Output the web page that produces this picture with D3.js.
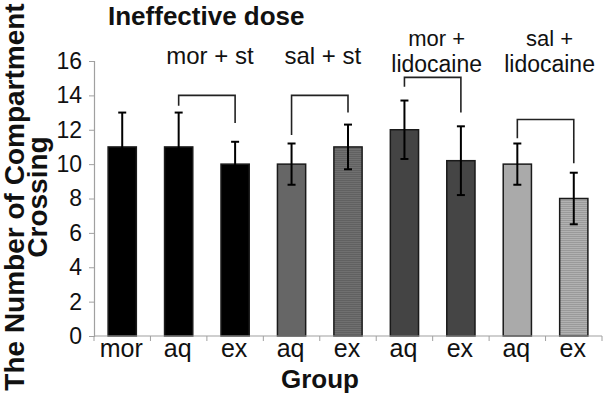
<!DOCTYPE html>
<html>
<head>
<meta charset="utf-8">
<script src="https://cdn.jsdelivr.net/npm/d3@7/dist/d3.min.js"></script>
<style>
  html, body { margin: 0; padding: 0; background: #fff; }
  svg { display: block; font-family: "Liberation Sans", Arial, sans-serif; }
</style>
</head>
<body>
<svg id="chart" width="606" height="403"></svg>
<script>
// ---- data ----
const categories = ["mor", "aq", "ex", "aq", "ex", "aq", "ex", "aq", "ex"];
const means      = [11, 11, 10, 10, 11, 12, 10.2, 10, 8];
const errors     = [2, 2, 1.3, 1.2, 1.3, 1.7, 2.0, 1.2, 1.5];
const yTicks     = [0, 2, 4, 6, 8, 10, 12, 14, 16];
const groupNames = [["mor + st"], ["sal + st"], ["mor +", "lidocaine"], ["sal +", "lidocaine"]];
// bracket: [left bar index, right bar index, top value, left leg end value, right leg end value]
const brackets   = [
  [1, 2, 14.0, 13.4, 12.4],
  [3, 4, 14.0, 11.7, 13.0],
  [5, 6, 15.05, 14.5, 13.0],
  [7, 8, 12.6, 11.5, 10.05]
];
const fills   = ["#000", "#000", "#000", "#666", "#707070", "#444", "#454545", "#aaa", "#b2b2b2"];
const striped = [false, false, false, false, true, false, false, false, true];

// ---- layout ----
const svg = d3.select("#chart");
const plotL = 94, plotR = 602, plotT = 61, plotB = 336;

const x = d3.scaleBand().domain(d3.range(categories.length))
  .range([plotL, plotR]).paddingInner(0.5).paddingOuter(0.25);
const y = d3.scaleLinear().domain([0, 16]).range([plotB, plotT]);

// stripe pattern
const defs = svg.append("defs");
striped.forEach((s, i) => {
  if (!s) return;
  const p = defs.append("pattern").attr("id", "stripe" + i)
    .attr("patternUnits", "userSpaceOnUse").attr("width", 4).attr("height", 2);
  p.append("rect").attr("width", 4).attr("height", 2).attr("fill", fills[i]);
  p.append("rect").attr("width", 4).attr("height", 1).attr("fill", d3.color(fills[i]).darker(0.4));
});

// y axis
const yAxis = svg.append("g").attr("transform", `translate(${plotL},0)`)
  .call(d3.axisLeft(y).tickValues(yTicks).tickSize(5).tickPadding(7));
yAxis.select(".domain").attr("stroke", "#a0a0a0").attr("stroke-width", 1.2);
yAxis.selectAll(".tick line").attr("stroke", "#a0a0a0");
yAxis.selectAll(".tick text").attr("font-size", 23).attr("fill", "#111")
  .attr("font-family", "Liberation Sans, Arial, sans-serif");

// bars
svg.append("g").selectAll("rect").data(means).join("rect")
  .attr("x", (d, i) => x(i))
  .attr("y", d => y(d))
  .attr("width", x.bandwidth())
  .attr("height", d => y(0) - y(d))
  .attr("fill", (d, i) => striped[i] ? `url(#stripe${i})` : fills[i])
  .attr("stroke", "#1a1a1a").attr("stroke-width", 1.5);

// error bars
const eb = svg.append("g").attr("stroke", "#000").attr("stroke-width", 2);
means.forEach((m, i) => {
  const cx = x(i) + x.bandwidth() / 2;
  eb.append("line").attr("x1", cx).attr("x2", cx).attr("y1", y(m + errors[i])).attr("y2", y(m - errors[i]));
  [m + errors[i], m - errors[i]].forEach(v => {
    eb.append("line").attr("x1", cx - 4).attr("x2", cx + 4).attr("y1", y(v)).attr("y2", y(v));
  });
});

// x axis
const xa = svg.append("g");
xa.append("line").attr("x1", plotL).attr("x2", plotR).attr("y1", plotB).attr("y2", plotB)
  .attr("stroke", "#a0a0a0").attr("stroke-width", 1.2);
d3.range(categories.length + 1).forEach(k => {
  const tx = plotL + k * x.step();
  xa.append("line").attr("x1", tx).attr("x2", tx).attr("y1", plotB).attr("y2", plotB + 5)
    .attr("stroke", "#a0a0a0");
});
xa.selectAll("text").data(categories).join("text")
  .attr("x", (d, i) => x(i) + x.bandwidth() / 2 - 1)
  .attr("y", 357)
  .attr("text-anchor", "middle").attr("font-size", 25).attr("fill", "#111")
  .text(d => d);

// brackets
const bg = svg.append("g").attr("fill", "none").attr("stroke", "#222").attr("stroke-width", 1.6);
brackets.forEach(b => {
  const x1 = x(b[0]) + x.bandwidth() / 2, x2 = x(b[1]) + x.bandwidth() / 2;
  bg.append("path").attr("d", `M${x1},${y(b[3])}V${y(b[2])}H${x2}V${y(b[4])}`);
});

// group labels
groupNames.forEach((lines, g) => {
  const b = brackets[g];
  const cx = (x(b[0]) + x(b[1]) + x.bandwidth()) / 2;
  if (lines.length === 1) {
    svg.append("text").attr("text-anchor", "middle").attr("font-size", 24).attr("fill", "#111")
      .attr("x", cx + 3).attr("y", 64).text(lines[0]);
  } else {
    svg.append("text").attr("text-anchor", "middle").attr("font-size", 22).attr("fill", "#111")
      .attr("x", cx + 4).attr("y", 46).text(lines[0]);
    svg.append("text").attr("text-anchor", "middle").attr("font-size", 23).attr("fill", "#111")
      .attr("x", cx + 4).attr("y", 72).text(lines[1]);
  }
});

// title
svg.append("text").attr("x", 108).attr("y", 25).attr("font-size", 26).attr("font-weight", "bold")
  .attr("fill", "#111").text("Ineffective dose");

// x title
svg.append("text").attr("x", 320).attr("y", 388).attr("text-anchor", "middle")
  .attr("font-size", 26).attr("font-weight", "bold").attr("fill", "#111").text("Group");

// y title
const yt = svg.append("text").attr("transform", "translate(24,197) rotate(-90)")
  .attr("text-anchor", "middle").attr("font-size", 28).attr("font-weight", "bold").attr("fill", "#111");
yt.append("tspan").attr("x", 0).attr("y", 0).text("The Number of Compartment");
yt.append("tspan").attr("x", 0).attr("y", 23).text("Crossing");
</script>
</body>
</html>
